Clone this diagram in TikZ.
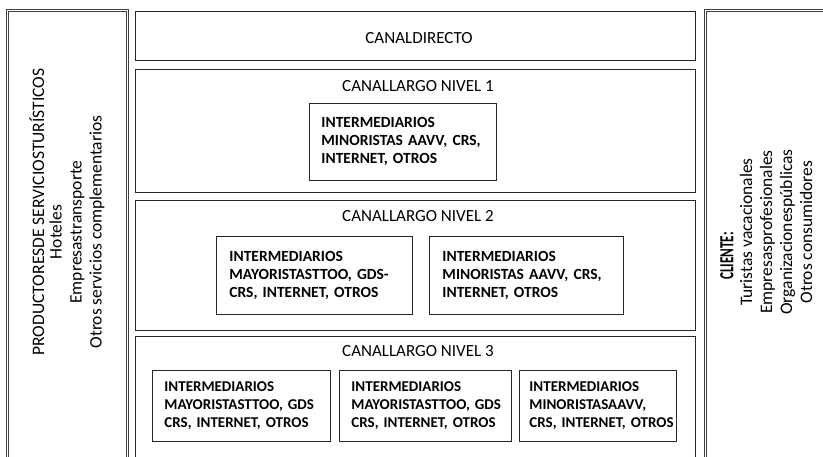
\documentclass[tikz,border=0pt]{standalone}
\usepackage{fontspec}
\setmainfont{Carlito}
\newfontfamily\narrowfont[FakeStretch=0.66]{Carlito}
\begin{document}
\begin{tikzpicture}[x=1pt,y=-1pt,
  sidebox/.style={draw=black!75, double=white, double distance=1.4pt, line width=0.6pt},
  chanbox/.style={draw=black!85, line width=1.3pt, anchor=north west, inner sep=0pt},
  interbox/.style={draw=black!85, line width=0.9pt, anchor=north west, align=left,
    inner xsep=12pt, inner ysep=0pt, font=\fontsize{15.5}{18}\selectfont\bfseries},
  smallinter/.style={interbox, font=\fontsize{15}{18}\selectfont\bfseries},
  chantitle/.style={font=\fontsize{17}{19}\selectfont, inner sep=0pt},
  sidetext/.style={rotate=90, align=center, inner sep=0pt,
    font=\fontsize{17.5}{20}\selectfont}]
  \useasboundingbox (0,0) rectangle (823,457);
  \clip (0,0) rectangle (823,457);

  % producers and clients on both sides
  \node[sidebox, minimum width=120pt, minimum height=470pt, anchor=north west, inner sep=0pt] (prod) at (7,10) {};
  \node[sidebox, minimum width=130pt, minimum height=470pt, anchor=north west, inner sep=0pt] (cli) at (705,10) {};
  \node[rotate=90, inner sep=0pt, font=\fontsize{17.5}{20}\selectfont] (prodhead) at (37,212)
    {PRODUCTORESDE SERVICIOSTURÍSTICOS};
  \node[sidetext] (prodtxt) at (77,232) {Hoteles\\Empresastransporte\\Otros servicios complementarios};
  \node[rotate=90, inner sep=0pt, font=\fontsize{20}{20}\selectfont\narrowfont\bfseries] (clihead) at (727,256) {CLIENTE:};
  \node[sidetext] (clitxt) at (776,232) {Turistas vacacionales\\Empresasprofesionales\\
    Organizacionespúblicas\\Otros consumidores};

  % channels
  \node[chanbox, minimum width=560pt, minimum height=49pt] (directo) at (135,11) {};
  \node[chantitle] (directotxt) at (419,38) {CANALDIRECTO};

  \node[chanbox, minimum width=560pt, minimum height=123pt] (n1) at (135,69) {};
  \node[chantitle] (n1txt) at (418,86) {CANALLARGO NIVEL 1};
  \node[interbox, minimum width=187pt, minimum height=77pt, text width=163pt] (n1a) at (309,103)
    {\mbox{INTERMEDIARIOS}\\\mbox{MINORISTAS AAVV, CRS,}\\\mbox{INTERNET, OTROS}};

  \node[chanbox, minimum width=560pt, minimum height=130pt] (n2) at (135,200) {};
  \node[chantitle] (n2txt) at (418,216) {CANALLARGO NIVEL 2};
  \node[interbox, minimum width=196pt, minimum height=78pt, text width=170pt, inner xsep=13pt] (n2a) at (216,236)
    {\mbox{INTERMEDIARIOS}\\\mbox{MAYORISTASTTOO, GDS-}\\\mbox{CRS, INTERNET, OTROS}};
  \node[interbox, minimum width=194pt, minimum height=78pt, text width=168pt, inner xsep=13pt] (n2b) at (429,236)
    {\mbox{INTERMEDIARIOS}\\\mbox{MINORISTAS AAVV, CRS,}\\\mbox{INTERNET, OTROS}};

  \node[chanbox, minimum width=560pt, minimum height=140pt] (n3) at (135,336) {};
  \node[chantitle] (n3txt) at (418,351) {CANALLARGO NIVEL 3};
  \node[smallinter, minimum width=178pt, minimum height=71pt, text width=154pt] (n3a) at (152,370)
    {\mbox{INTERMEDIARIOS}\\\mbox{MAYORISTASTTOO, GDS}\\\mbox{CRS, INTERNET, OTROS}};
  \node[smallinter, minimum width=172pt, minimum height=71pt, text width=148pt] (n3b) at (339,370)
    {\mbox{INTERMEDIARIOS}\\\mbox{MAYORISTASTTOO, GDS}\\\mbox{CRS, INTERNET, OTROS}};
  \node[smallinter, minimum width=157pt, minimum height=71pt, text width=137pt, inner xsep=10pt] (n3c) at (519,370)
    {\mbox{INTERMEDIARIOS}\\\mbox{MINORISTASAAVV,}\\\mbox{CRS, INTERNET, OTROS}};
\end{tikzpicture}
\end{document}
